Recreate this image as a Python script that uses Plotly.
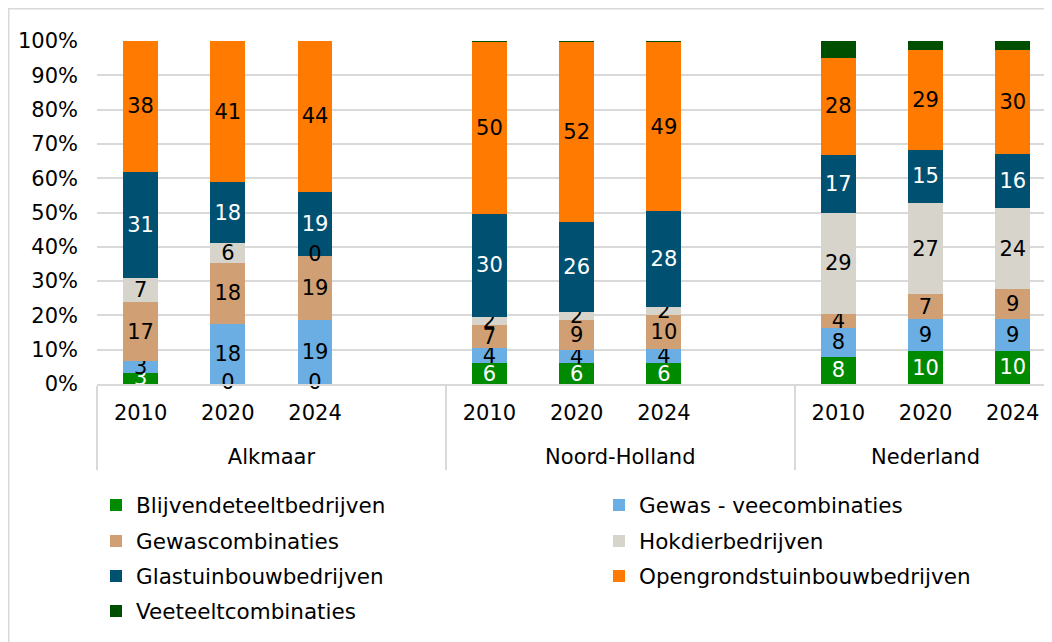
import plotly.graph_objects as go

regions = ["Alkmaar", "Alkmaar", "Alkmaar", "Alkmaar",
           "Noord-Holland", "Noord-Holland", "Noord-Holland", "Noord-Holland",
           "Nederland", "Nederland", "Nederland"]
years = ["2010", "2020", "2024", " ",
         "2010", "2020", "2024", "  ",
         "2010", "2020", "2024"]

series_names = ["Blijvendeteeltbedrijven", "Gewas - veecombinaties", "Gewascombinaties",
                "Hokdierbedrijven", "Glastuinbouwbedrijven", "Opengrondstuinbouwbedrijven",
                "Veeteeltcombinaties"]

# values per bar (None = empty slot)
blijvende = [3.3, 0.0, 0.0, None, 6.1, 6.0, 6.0, None, 8.0, 9.6, 9.7]
gewas_vee = [3.3, 17.6, 18.6, None, 4.3, 3.8, 4.3, None, 8.4, 9.3, 9.2]
gewasc = [17.4, 17.6, 18.8, None, 6.7, 8.8, 9.8, None, 4.1, 7.2, 8.7]
hokdier = [6.9, 6.0, 0.0, None, 2.4, 2.4, 2.2, None, 29.4, 26.8, 23.7]
glas = [31.0, 17.6, 18.7, None, 30.2, 26.3, 27.9, None, 17.0, 15.3, 15.9]
opengrond = [38.1, 41.2, 43.9, None, 50.1, 52.4, 49.4, None, 28.1, 29.3, 30.3]
veeteelt = [0.0, 0.0, 0.0, None, 0.2, 0.2, 0.2, None, 5.0, 2.5, 2.5]

series = [blijvende, gewas_vee, gewasc, hokdier, glas, opengrond, veeteelt]
colors = ["#008A00", "#6BAEE3", "#D09F74", "#D7D4CB", "#005171", "#FF7A00", "#004F00"]
text_colors = ["white", "black", "black", "black", "white", "black", None]
tick_labels = ["0%", "10%", "20%", "30%", "40%", "50%", "60%", "70%", "80%", "90%", "100%"]
tick_vals = [0, 10, 20, 30, 40, 50, 60, 70, 80, 90, 100]

# year labels get an empty second line to leave room above the region labels
year_labels = [y + "<br>&nbsp;" for y in years]

n = len(years)
totals = []
for i in range(n):
    if blijvende[i] is None:
        totals.append(None)
    else:
        totals.append(sum(s[i] for s in series))

def norm(s):
    return [None if v is None else v / t * 100 for v, t in zip(s, totals)]

FONT = "DejaVu Sans"
FS = 21
fig = go.Figure()
base = [0.0 if t is not None else None for t in totals]
zero_x0, zero_x1, zero_y, zero_t = [], [], [], []
legend_ids = ["legend"] + ["legend%d" % k for k in range(2, len(series_names) + 1)]
for name, s, col, tcol, lg in zip(series_names, series, colors, text_colors, legend_ids):
    ns = norm(s)
    if tcol is not None:
        txt = ["" if v is None else str(int(v + 0.5)) for v in s]
    else:
        txt = None
    fig.add_trace(go.Bar(
        name=name, x=[regions, year_labels], y=ns, marker=dict(color=col, line=dict(width=0)),
        text=txt, textposition="inside", insidetextanchor="middle", textangle=0,
        constraintext="none", textfont=dict(family=FONT, size=FS, color=tcol or "black"),
        hoverinfo="skip", legend=lg,
    ))
    if tcol is not None:
        for i, v in enumerate(s):
            if v is not None and v == 0:
                zero_x0.append(regions[i]); zero_x1.append(year_labels[i])
                zero_y.append(base[i]); zero_t.append("0")
    base = [None if b is None else b + v for b, v in zip(base, ns)]

# labels for zero-height segments
fig.add_trace(go.Scatter(
    x=[zero_x0, zero_x1], y=zero_y, text=zero_t, mode="text", showlegend=False,
    textfont=dict(family=FONT, size=FS, color="black"), cliponaxis=False, hoverinfo="skip",
))

# page is offset by the 8px body margin
OFF = 8
W, H = 1052 - OFF, 642 - OFF
L, R, T, B = 97 - OFF, 0, 41 - OFF, 642 - 384
pw, ph = W - L - R, H - T - B
def px_x(p):  # page pixel -> paper
    return (p - OFF - L) / pw
def px_y(p):
    return (H - B - (p - OFF)) / ph

# legend grid: 2 columns, 4 rows
col_x = [96, 599]
row_y = [505, 541, 576, 611]
legends = {}
for k, lg in enumerate(legend_ids):
    legends[lg] = dict(x=px_x(col_x[k % 2]), y=px_y(row_y[k // 2]), xanchor="left",
                       yanchor="middle", bgcolor="rgba(0,0,0,0)", borderwidth=0,
                       font=dict(family=FONT, size=21.5, color="black"))

fig.update_layout(
    width=W, height=H,
    margin=dict(l=L, r=R, t=T, b=B),
    barmode="stack", bargap=0.6,
    plot_bgcolor="white", paper_bgcolor="white",
    font=dict(family=FONT, size=FS, color="black"),
    showlegend=True,
    xaxis=dict(type="multicategory", range=[-0.5, 10.45], showline=True, linecolor="#D9D9D9",
               linewidth=1.5, showgrid=False, ticks="", showdividers=True,
               dividercolor="#D9D9D9", dividerwidth=1.5, ticklabelstandoff=9,
               tickfont=dict(family=FONT, size=FS, color="black")),
    yaxis=dict(range=[0, 100], tickvals=tick_vals, ticktext=tick_labels, showgrid=True,
               gridcolor="#D9D9D9", gridwidth=1.5, zeroline=False, showline=False,
               ticks="", ticklabelstandoff=18, tickfont=dict(family=FONT, size=FS, color="black")),
    shapes=[
        dict(type="line", xref="paper", yref="paper", x0=px_x(8.75), x1=px_x(8.75),
             y0=px_y(8), y1=px_y(642), line=dict(color="#D9D9D9", width=1.5)),
        dict(type="line", xref="paper", yref="paper", x0=px_x(8), x1=px_x(1052),
             y0=px_y(8.75), y1=px_y(8.75), line=dict(color="#D9D9D9", width=1.5)),
    ],
    **legends,
)

fig.write_html("out.html")
